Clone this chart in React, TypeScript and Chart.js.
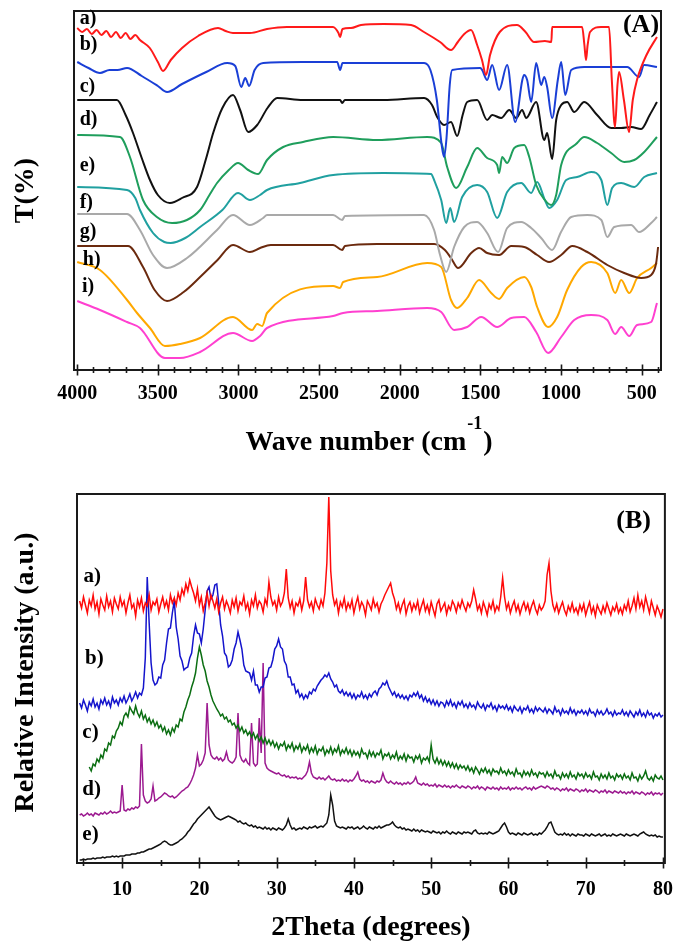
import React, { useEffect, useRef } from "react";
import { Chart, registerables } from "chart.js";

Chart.register(...registerables);

const SERIF = '"Liberation Serif", "Times New Roman", serif';

// ---------------- Panel A: FTIR (wavenumber, transmittance in arbitrary offset units) ----------------
const FTIR_A_X = [4000,3970,3940,3910,3880,3850,3820,3790,3760,3730,3700,3670,3640,3611,3550,3500,3468,3420,3350,3250,3127,3080,3034,2929,2823,2700,2500,2414,2380,2370,2355,2302,2240,2100,1930,1850,1750,1682,1640,1600,1558,1520,1490,1465,1440,1380,1273,1220,1167,1100,1060,1055,900,869,855,845,835,820,752,702,685,665,650,640,610,578,555,529,470,405];
const FTIR_A_Y = [342,338,341,336,340,335,339,333,338,332,337,331,335,330,322,308,299,310,322,334,342,339,337,337,341,343,343,343,337,333,341,342,345,346,345,338,328,320,328,336,340,325,310,295,315,338,345,338,328,329,328,343,343,343,325,310,325,338,343,343,290,243,285,298,270,238,270,290,315,333];

const FTIR_B_X = [4000,3930,3859,3800,3750,3691,3600,3500,3443,3350,3200,3070,3020,2983,2958,2934,2900,2847,2600,2388,2370,2355,2100,1849,1810,1770,1740,1725,1710,1690,1675,1500,1489,1458,1427,1384,1334,1284,1240,1229,1210,1185,1154,1123,1104,1086,1055,1020,999,974,937,856,689,590,516,485,405];
const FTIR_B_Y = [308,302,297,300,300,302,294,284,278,286,298,307,304,283,292,284,300,307,308,308,300,307,307,307,300,270,225,213,232,285,300,302,300,290,305,280,305,248,290,295,290,268,307,285,293,283,252,290,308,275,300,303,303,303,293,305,303];

const FTIR_C_X = [4000,3754,3700,3654,3600,3549,3500,3425,3350,3257,3200,3157,3100,3034,2990,2940,2884,2820,2760,2600,2370,2357,2340,2100,1849,1800,1768,1725,1682,1644,1610,1582,1520,1458,1427,1371,1321,1278,1241,1216,1154,1104,1086,1055,1030,999,962,918,856,776,689,627,565,503,450,405];
const FTIR_C_Y = [270,270,255,237,212,190,175,167,172,183,212,237,262,275,260,238,245,262,272,270,270,267,270,270,272,265,253,245,248,234,255,268,270,250,255,252,260,252,260,252,268,230,237,211,250,265,268,258,268,255,242,242,243,241,255,268];

const FTIR_D_X = [4000,3735,3673,3592,3506,3412,3320,3238,3180,3133,3060,3003,2940,2878,2823,2723,2600,2413,2140,1830,1743,1706,1650,1582,1520,1458,1396,1384,1365,1334,1290,1228,1197,1154,1100,1061,1030,999,900,856,776,689,608,546,484,405];
const FTIR_D_Y = [235,233,213,170,153,147,150,160,175,187,200,207,200,196,210,223,228,233,230,233,227,203,182,203,222,212,205,197,213,207,222,225,213,185,170,165,175,205,227,233,227,217,208,210,218,233];

const FTIR_E_X = [4000,3691,3640,3611,3530,3460,3420,3330,3238,3100,3003,2929,2866,2823,2618,2413,2100,1806,1787,1743,1712,1687,1663,1613,1520,1458,1396,1334,1247,1185,1148,1100,1074,1024,968,900,813,750,713,683,627,546,484,405];
const FTIR_E_Y = [183,180,172,160,137,128,127,132,143,160,177,170,175,180,187,195,197,196,190,170,147,162,148,173,185,178,152,178,187,177,188,170,162,170,190,193,198,190,165,182,187,183,193,197];

const FTIR_F_X = [4000,3691,3611,3530,3443,3319,3133,3034,2929,2847,2823,2413,2357,2340,1849,1787,1750,1712,1663,1600,1520,1458,1390,1334,1247,1185,1123,1055,1000,937,837,750,713,670,565,516,441,405];
const FTIR_F_Y = [156,156,140,115,102,112,140,155,145,152,155,155,150,154,155,140,115,98,123,143,148,137,118,142,148,142,132,120,138,153,155,150,133,143,145,138,147,153];

const FTIR_G_X = [4000,3685,3592,3520,3443,3340,3238,3130,3034,2929,2866,2800,2413,2357,2340,2140,1787,1720,1682,1638,1557,1508,1458,1384,1309,1228,1148,1074,999,930,837,713,608,503,441,410,398];
const FTIR_G_Y = [124,124,103,80,69,78,93,110,125,118,122,125,125,120,124,126,126,120,112,102,117,122,117,115,124,123,115,108,115,124,118,105,97,92,95,107,123];

const FTIR_H_X = [4000,3859,3691,3629,3549,3456,3363,3238,3034,2916,2884,2853,2823,2413,2370,2351,2140,1830,1743,1682,1644,1582,1508,1433,1384,1334,1228,1185,1148,1080,1024,962,875,813,713,664,627,577,528,441,405];
const FTIR_H_Y = [108,100,70,57,42,24,26,32,53,40,46,44,57,84,82,88,93,107,103,70,62,72,90,77,71,82,93,83,63,43,53,80,103,108,97,77,90,77,92,102,107];

const FTIR_I_X = [4000,3859,3691,3611,3456,3363,3238,3034,2916,2866,2823,2413,2351,2140,1830,1743,1663,1582,1495,1396,1309,1228,1154,1080,999,918,813,713,664,627,577,528,441,405];
const FTIR_I_Y = [69,60,48,42,12,12,18,37,29,34,42,54,57,59,62,58,40,43,53,43,52,53,38,17,33,50,55,50,36,43,34,45,48,67];

const FTIR_LABELS = ["a)", "b)", "c)", "d)", "e)", "f)", "g)", "h)", "i)"];
const FTIR_COLORS = ["#ff1a1a", "#1a3fd6", "#111111", "#1f9e5c", "#20a0a0", "#a9a9a9", "#6b2a0e", "#ffa800", "#ff40d0"];
const FTIR_TICKS = [4000, 3500, 3000, 2500, 2000, 1500, 1000, 500];

// ---------------- Panel B: XRD (2theta grid start/step, intensity offset units) ----------------
const THETA_START = 4.5;
const THETA_STEP = 0.25;

const XRD_A = [
262,255,266,258,250,263,257,268,254,261,249,264,258,253,267,256,262,251,265,259,
254,266,257,262,250,260,268,255,259,247,263,256,265,252,260,257,268,253,261,258,
264,251,259,266,256,262,253,268,260,265,258,270,263,274,268,279,272,283,276,270,
262,274,258,266,252,260,270,257,268,262,255,264,251,260,266,254,262,257,250,263,
256,265,252,261,258,267,254,260,249,263,257,268,255,262,259,251,264,258,281,266,
258,262,253,266,257,261,270,294,265,255,262,250,260,257,264,253,262,286,263,256,
261,252,264,258,254,263,257,270,300,366,292,268,258,263,250,261,256,265,253,260,
255,263,250,259,266,254,261,257,248,262,258,253,264,256,260,251,259,263,268,272,
276,280,270,264,254,260,251,258,263,249,257,261,252,259,254,262,250,257,263,252,
258,250,261,254,247,259,263,252,256,260,249,257,253,262,258,251,260,255,263,257,
252,260,256,262,273,264,253,258,250,261,255,248,259,254,262,251,257,253,266,285,
266,254,260,250,257,262,252,258,249,256,261,253,259,250,257,262,254,249,258,253,
256,262,288,300,272,258,252,259,250,256,261,253,248,257,252,260,251,255,249,258,
252,259,248,255,261,250,256,247,258,253,249,257,251,260,254,248,256,252,259,250,
255,249,258,253,262,251,257,265,254,268,256,262,253,266,258,250,262,255,248,257,
252,246,254];

const XRD_B = [
160,155,163,158,152,161,157,164,156,160,154,163,159,165,158,162,156,166,160,163,
158,165,161,167,160,164,169,162,166,171,165,170,168,175,205,286,240,200,183,178,
180,186,185,198,203,220,234,235,250,262,236,224,207,202,193,195,196,205,210,227,
238,230,229,220,234,253,272,276,264,268,278,279,260,238,227,210,207,196,198,203,
214,220,231,223,214,198,192,191,190,183,192,178,178,171,176,176,185,186,195,196,
203,214,217,224,216,214,202,198,186,186,178,179,170,173,166,169,164,168,165,171,
169,174,172,177,180,183,185,188,186,190,184,181,176,178,172,170,173,168,171,167,
170,165,169,164,168,166,171,165,168,164,169,166,170,172,168,174,176,180,178,182,
176,172,168,171,166,169,165,168,164,167,163,168,166,170,167,171,165,168,162,166,
161,164,159,163,158,162,157,161,160,156,162,158,163,157,160,155,161,158,162,156,
159,155,160,156,158,154,161,157,155,159,153,158,156,160,154,157,152,158,155,157,
154,158,153,156,151,157,154,152,156,150,155,153,157,151,154,150,156,152,155,153,
151,155,150,154,152,149,156,151,153,148,154,150,152,149,155,150,153,148,152,150,
153,149,152,148,154,150,151,147,153,149,152,148,150,154,149,151,147,152,148,150,
149,153,148,151,147,152,149,146,151,148,153,147,150,146,152,148,150,145,149,147,
150,146,148];

const XRD_C = [
null,null,null,null,null,96,92,99,97,104,101,108,105,114,112,120,118,127,125,132,
135,141,138,147,150,146,156,152,149,157,150,146,152,144,148,141,145,139,143,137,
141,135,138,132,136,129,133,128,135,131,138,136,144,142,151,156,163,168,176,182,
190,205,216,208,198,192,182,176,168,162,158,154,151,147,149,144,146,141,143,138,
140,135,138,132,136,130,133,128,131,126,130,124,128,122,126,120,125,119,123,118,
122,116,120,114,119,117,121,113,118,115,120,112,117,114,119,111,116,113,118,110,
115,111,117,109,114,112,116,108,113,110,116,109,114,111,117,108,113,110,115,109,
113,107,112,108,111,106,114,109,110,105,112,107,111,106,110,108,113,104,109,107,
110,104,108,105,111,103,107,104,109,102,108,105,106,101,107,104,108,100,105,103,
106,101,118,104,100,105,99,103,98,102,97,101,96,100,95,99,94,98,95,97,
93,97,92,95,90,96,93,89,94,91,95,90,93,88,94,91,92,89,95,90,
92,88,93,89,91,87,94,89,90,86,92,88,91,87,93,88,90,86,91,89,
90,86,91,87,89,85,92,87,88,84,90,86,89,85,91,86,88,84,90,87,
89,85,90,86,88,84,91,86,87,83,89,85,88,84,90,85,87,83,89,86,
88,84,89,85,87,83,90,85,86,82,88,84,87,92,85,83,86,82,88,85,
84,87,83];

const XRD_D = [
48,49,47,48,50,48,49,47,50,49,48,50,49,51,49,50,52,50,51,50,
51,52,78,53,52,54,53,55,54,56,55,57,119,68,62,60,61,64,77,62,
63,65,66,68,70,69,67,66,67,65,66,68,70,72,73,75,76,79,83,88,
95,108,97,99,103,110,160,118,108,105,104,106,103,105,102,104,111,103,101,100,
102,106,150,108,103,101,104,100,98,140,100,97,99,145,110,200,100,95,93,92,
91,90,89,90,88,87,88,86,87,85,86,85,86,84,85,84,86,88,92,101,
90,86,85,84,86,84,85,83,85,87,84,83,84,82,83,82,84,82,83,81,
83,82,84,87,91,84,82,83,81,82,80,82,81,80,82,81,83,90,84,81,
80,82,80,79,81,79,80,78,80,79,81,79,80,82,86,80,79,78,80,78,
79,77,78,77,79,76,78,77,76,78,76,77,75,77,76,78,76,75,77,76,
75,77,76,74,76,75,77,74,76,75,73,76,75,74,76,74,75,73,76,74,
75,74,76,73,75,74,76,74,75,73,75,76,74,75,73,76,74,75,76,77,
76,75,77,76,74,75,73,75,74,72,74,73,75,72,74,73,72,74,73,71,
73,72,74,71,73,72,71,73,72,70,72,71,73,70,72,71,70,72,71,70,
72,70,71,69,71,70,72,69,71,70,69,71,70,68,70,69,71,68,70,69,
70,68,70];

const XRD_E = [
3,3,4,3,4,4,4,5,4,5,5,5,6,5,6,6,6,7,6,7,
6,7,7,7,8,8,8,9,9,9,10,10,11,11,12,13,14,14,15,16,
17,18,19,21,22,21,19,18,18,19,20,21,23,24,26,28,31,33,36,39,
41,44,46,48,50,52,54,56,53,50,47,45,44,43,44,45,46,47,46,45,
44,43,41,42,40,39,40,38,37,38,36,37,35,36,35,34,36,34,35,33,
35,34,33,35,34,33,35,38,44,38,34,35,33,34,35,34,36,35,34,36,
35,36,37,35,36,37,36,38,40,48,68,58,42,37,36,35,36,35,34,36,
35,36,34,35,36,34,35,37,35,34,36,35,34,36,35,37,35,36,37,38,
38,39,41,38,36,35,36,34,35,33,34,33,32,34,32,33,31,33,32,31,
32,31,30,32,31,30,31,29,31,30,32,30,29,31,30,29,31,30,29,31,
30,31,30,29,32,33,30,29,30,29,30,29,31,30,29,30,31,32,35,38,
40,36,31,29,30,29,28,30,29,28,30,29,28,29,30,28,29,28,30,29,
31,33,36,40,41,36,31,29,28,29,28,30,28,29,27,29,28,27,29,28,
28,27,29,28,27,29,28,27,28,29,27,28,29,27,28,27,29,28,27,28,
29,28,27,29,28,27,28,29,28,27,29,30,31,29,28,27,28,27,28,26,
27,26,26];

const XRD_LABELS = ["a)", "b)", "c)", "d)", "e)"];
const XRD_COLORS = ["#ff0a0a", "#1414cc", "#0b6e12", "#9c1a90", "#111111"];
const XRD_TICKS = [10, 20, 30, 40, 50, 60, 70, 80];

// ---------------- annotation placement (in data units) ----------------
const FTIR_LABEL_POS = [
  [3985, 351], [3985, 325], [3985, 283], [3985, 250], [3985, 204],
  [3985, 167], [3985, 138], [3965, 110], [3971, 83],
];
const XRD_LABEL_POS = [[5.0, 286], [5.2, 204], [4.85, 130], [4.85, 73], [4.85, 28]];

const decorPlugin = {
  id: "decor",
  afterDatasetsDraw(chart: any, _args: any, o: any) {
    const { ctx, chartArea: ca, scales } = chart;
    const xs = scales.x;
    const ys = scales.y;
    ctx.save();
    ctx.strokeStyle = "#1a1a1a";
    ctx.lineWidth = 2;
    ctx.strokeRect(ca.left, ca.top, ca.right - ca.left, ca.bottom - ca.top);
    ctx.lineWidth = 1.6;
    ctx.beginPath();
    for (const v of o.minor) {
      const px = Math.round(xs.getPixelForValue(v)) + 0.5;
      ctx.moveTo(px, ca.bottom - 3);
      ctx.lineTo(px, ca.bottom + 3);
    }
    for (const v of o.major) {
      const px = Math.round(xs.getPixelForValue(v)) + 0.5;
      ctx.moveTo(px, ca.bottom - 5.5);
      ctx.lineTo(px, ca.bottom + 5.5);
    }
    ctx.stroke();
    ctx.fillStyle = "#000";
    ctx.textAlign = "left";
    ctx.textBaseline = "middle";
    ctx.font = `bold ${o.labelSize}px ${SERIF}`;
    o.labels.forEach((t: string, i: number) => {
      const p = o.labelPos[i];
      ctx.fillText(t, xs.getPixelForValue(p[0]), ys.getPixelForValue(p[1]));
    });
    ctx.font = `bold 26px ${SERIF}`;
    ctx.textAlign = "center";
    ctx.fillText(o.tag, xs.getPixelForValue(o.tagPos[0]), ys.getPixelForValue(o.tagPos[1]));
    ctx.textBaseline = "alphabetic";
    const cx = (ca.left + ca.right) / 2 + (o.xTitleShift || 0);
    const by = ca.bottom + o.xTitleOffset;
    if (o.xTitleSup) {
      ctx.font = `bold 28px ${SERIF}`;
      const w1 = ctx.measureText(o.xTitle).width;
      const w3 = ctx.measureText(o.xTitleEnd).width;
      ctx.font = `bold 18px ${SERIF}`;
      const w2 = ctx.measureText(o.xTitleSup).width;
      const total = w1 + w2 + w3 + 2;
      const x0 = cx - total / 2;
      ctx.textAlign = "left";
      ctx.font = `bold 28px ${SERIF}`;
      ctx.fillText(o.xTitle, x0, by);
      ctx.font = `bold 18px ${SERIF}`;
      ctx.fillText(o.xTitleSup, x0 + w1 + 1, by - 21);
      ctx.font = `bold 28px ${SERIF}`;
      ctx.fillText(o.xTitleEnd, x0 + w1 + w2 + 2, by);
    } else {
      ctx.font = `bold 28px ${SERIF}`;
      ctx.textAlign = "center";
      ctx.fillText(o.xTitle, cx, by);
    }
    ctx.save();
    ctx.translate(o.yTitleX, (ca.top + ca.bottom) / 2 + (o.yTitleShift || 0));
    ctx.rotate(-Math.PI / 2);
    ctx.font = `bold 28px ${SERIF}`;
    ctx.textAlign = "center";
    ctx.textBaseline = "alphabetic";
    ctx.fillText(o.yTitle, 0, 0);
    ctx.restore();
    ctx.restore();
  },
};

const tickFont = { family: SERIF, size: 20, weight: "bold" as const };

function FtirChart() {
  const ref = useRef<HTMLCanvasElement | null>(null);
  useEffect(() => {
    if (!ref.current) return;
    const xsArr = [FTIR_A_X, FTIR_B_X, FTIR_C_X, FTIR_D_X, FTIR_E_X, FTIR_F_X, FTIR_G_X, FTIR_H_X, FTIR_I_X];
    const ysArr = [FTIR_A_Y, FTIR_B_Y, FTIR_C_Y, FTIR_D_Y, FTIR_E_Y, FTIR_F_Y, FTIR_G_Y, FTIR_H_Y, FTIR_I_Y];
    const datasets = xsArr.map((xa, k) => ({
      label: FTIR_LABELS[k],
      data: xa.map((x, i) => ({ x, y: ysArr[k][i] })),
      borderColor: FTIR_COLORS[k],
      borderWidth: 2,
      pointRadius: 0,
      fill: false,
      cubicInterpolationMode: "monotone" as const,
    }));
    const minor: number[] = [];
    for (let v = 400; v <= 4000; v += 100) if (v % 500 !== 0) minor.push(v);
    const chart = new Chart(ref.current, {
      type: "line",
      data: { datasets },
      options: {
        responsive: false,
        animation: false,
        events: [],
        layout: { padding: { left: 0, right: 27, top: 11, bottom: 0 } },
        scales: {
          x: {
            type: "linear",
            reverse: true,
            min: 380,
            max: 4020,
            grid: { display: false, drawTicks: false, tickLength: 0 },
            border: { display: false },
            afterBuildTicks: (s: any) => { s.ticks = FTIR_TICKS.map((v) => ({ value: v })); },
            ticks: {
              autoSkip: false,
              maxRotation: 0,
              padding: 12,
              color: "#000",
              font: tickFont,
              callback: (v: any) => String(v),
            },
            afterFit: (s: any) => { s.height = 100; },
          },
          y: {
            type: "linear",
            min: 0,
            max: 359,
            grid: { display: false, drawTicks: false },
            border: { display: false },
            ticks: { display: false },
            afterFit: (s: any) => { s.width = 74; },
          },
        },
        plugins: {
          legend: { display: false },
          tooltip: { enabled: false },
          decor: {
            major: FTIR_TICKS,
            minor,
            labels: FTIR_LABELS,
            labelPos: FTIR_LABEL_POS,
            labelSize: 20,
            tag: "(A)",
            tagPos: [504, 345],
            xTitle: "Wave number (cm",
            xTitleSup: "-1",
            xTitleEnd: ")",
            xTitleOffset: 80,
            xTitleShift: 1.5,
            yTitle: "T(%)",
            yTitleX: 33,
          },
        } as any,
      },
      plugins: [decorPlugin as any],
    });
    return () => chart.destroy();
  }, []);
  return <canvas ref={ref} width={688} height={470} style={{ position: "absolute", left: 0, top: 0 }} />;
}

function XrdChart() {
  const ref = useRef<HTMLCanvasElement | null>(null);
  useEffect(() => {
    if (!ref.current) return;
    const series = [XRD_A, XRD_B, XRD_C, XRD_D, XRD_E];
    const datasets = series.map((arr, k) => ({
      label: XRD_LABELS[k],
      data: arr.map((y, i) => ({ x: THETA_START + i * THETA_STEP, y })),
      borderColor: XRD_COLORS[k],
      borderWidth: 1.5,
      pointRadius: 0,
      fill: false,
      tension: 0,
    }));
    const minor: number[] = [];
    for (let v = 5; v <= 75; v += 10) minor.push(v);
    const chart = new Chart(ref.current, {
      type: "line",
      data: { datasets: datasets as any },
      options: {
        responsive: false,
        animation: false,
        events: [],
        layout: { padding: { left: 0, right: 12, top: 24, bottom: 0 } },
        scales: {
          x: {
            type: "linear",
            min: 4.16,
            max: 80.25,
            grid: { display: false, drawTicks: false, tickLength: 0 },
            border: { display: false },
            afterBuildTicks: (s: any) => { s.ticks = XRD_TICKS.map((v) => ({ value: v })); },
            ticks: {
              autoSkip: false,
              maxRotation: 0,
              padding: 15,
              color: "#000",
              font: tickFont,
              callback: (v: any) => String(v),
            },
            afterFit: (s: any) => { s.height = 81; },
          },
          y: {
            type: "linear",
            min: 0,
            max: 369,
            grid: { display: false, drawTicks: false },
            border: { display: false },
            ticks: { display: false },
            afterFit: (s: any) => { s.width = 77; },
          },
        },
        plugins: {
          legend: { display: false },
          tooltip: { enabled: false },
          decor: {
            major: XRD_TICKS,
            minor,
            labels: XRD_LABELS,
            labelPos: XRD_LABEL_POS,
            labelSize: 21,
            tag: "(B)",
            tagPos: [76.2, 342],
            xTitle: "2Theta (degrees)",
            xTitleOffset: 72,
            yTitle: "Relative Intensity (a.u.)",
            yTitleX: 33,
            yTitleShift: -6,
          },
        } as any,
      },
      plugins: [decorPlugin as any],
    });
    return () => chart.destroy();
  }, []);
  return <canvas ref={ref} width={688} height={474} style={{ position: "absolute", left: 0, top: 470 }} />;
}

export default function App() {
  return (
    <div style={{ position: "fixed", left: 0, top: 0, width: 688, height: 944, background: "#fff" }}>
      <FtirChart />
      <XrdChart />
    </div>
  );
}
